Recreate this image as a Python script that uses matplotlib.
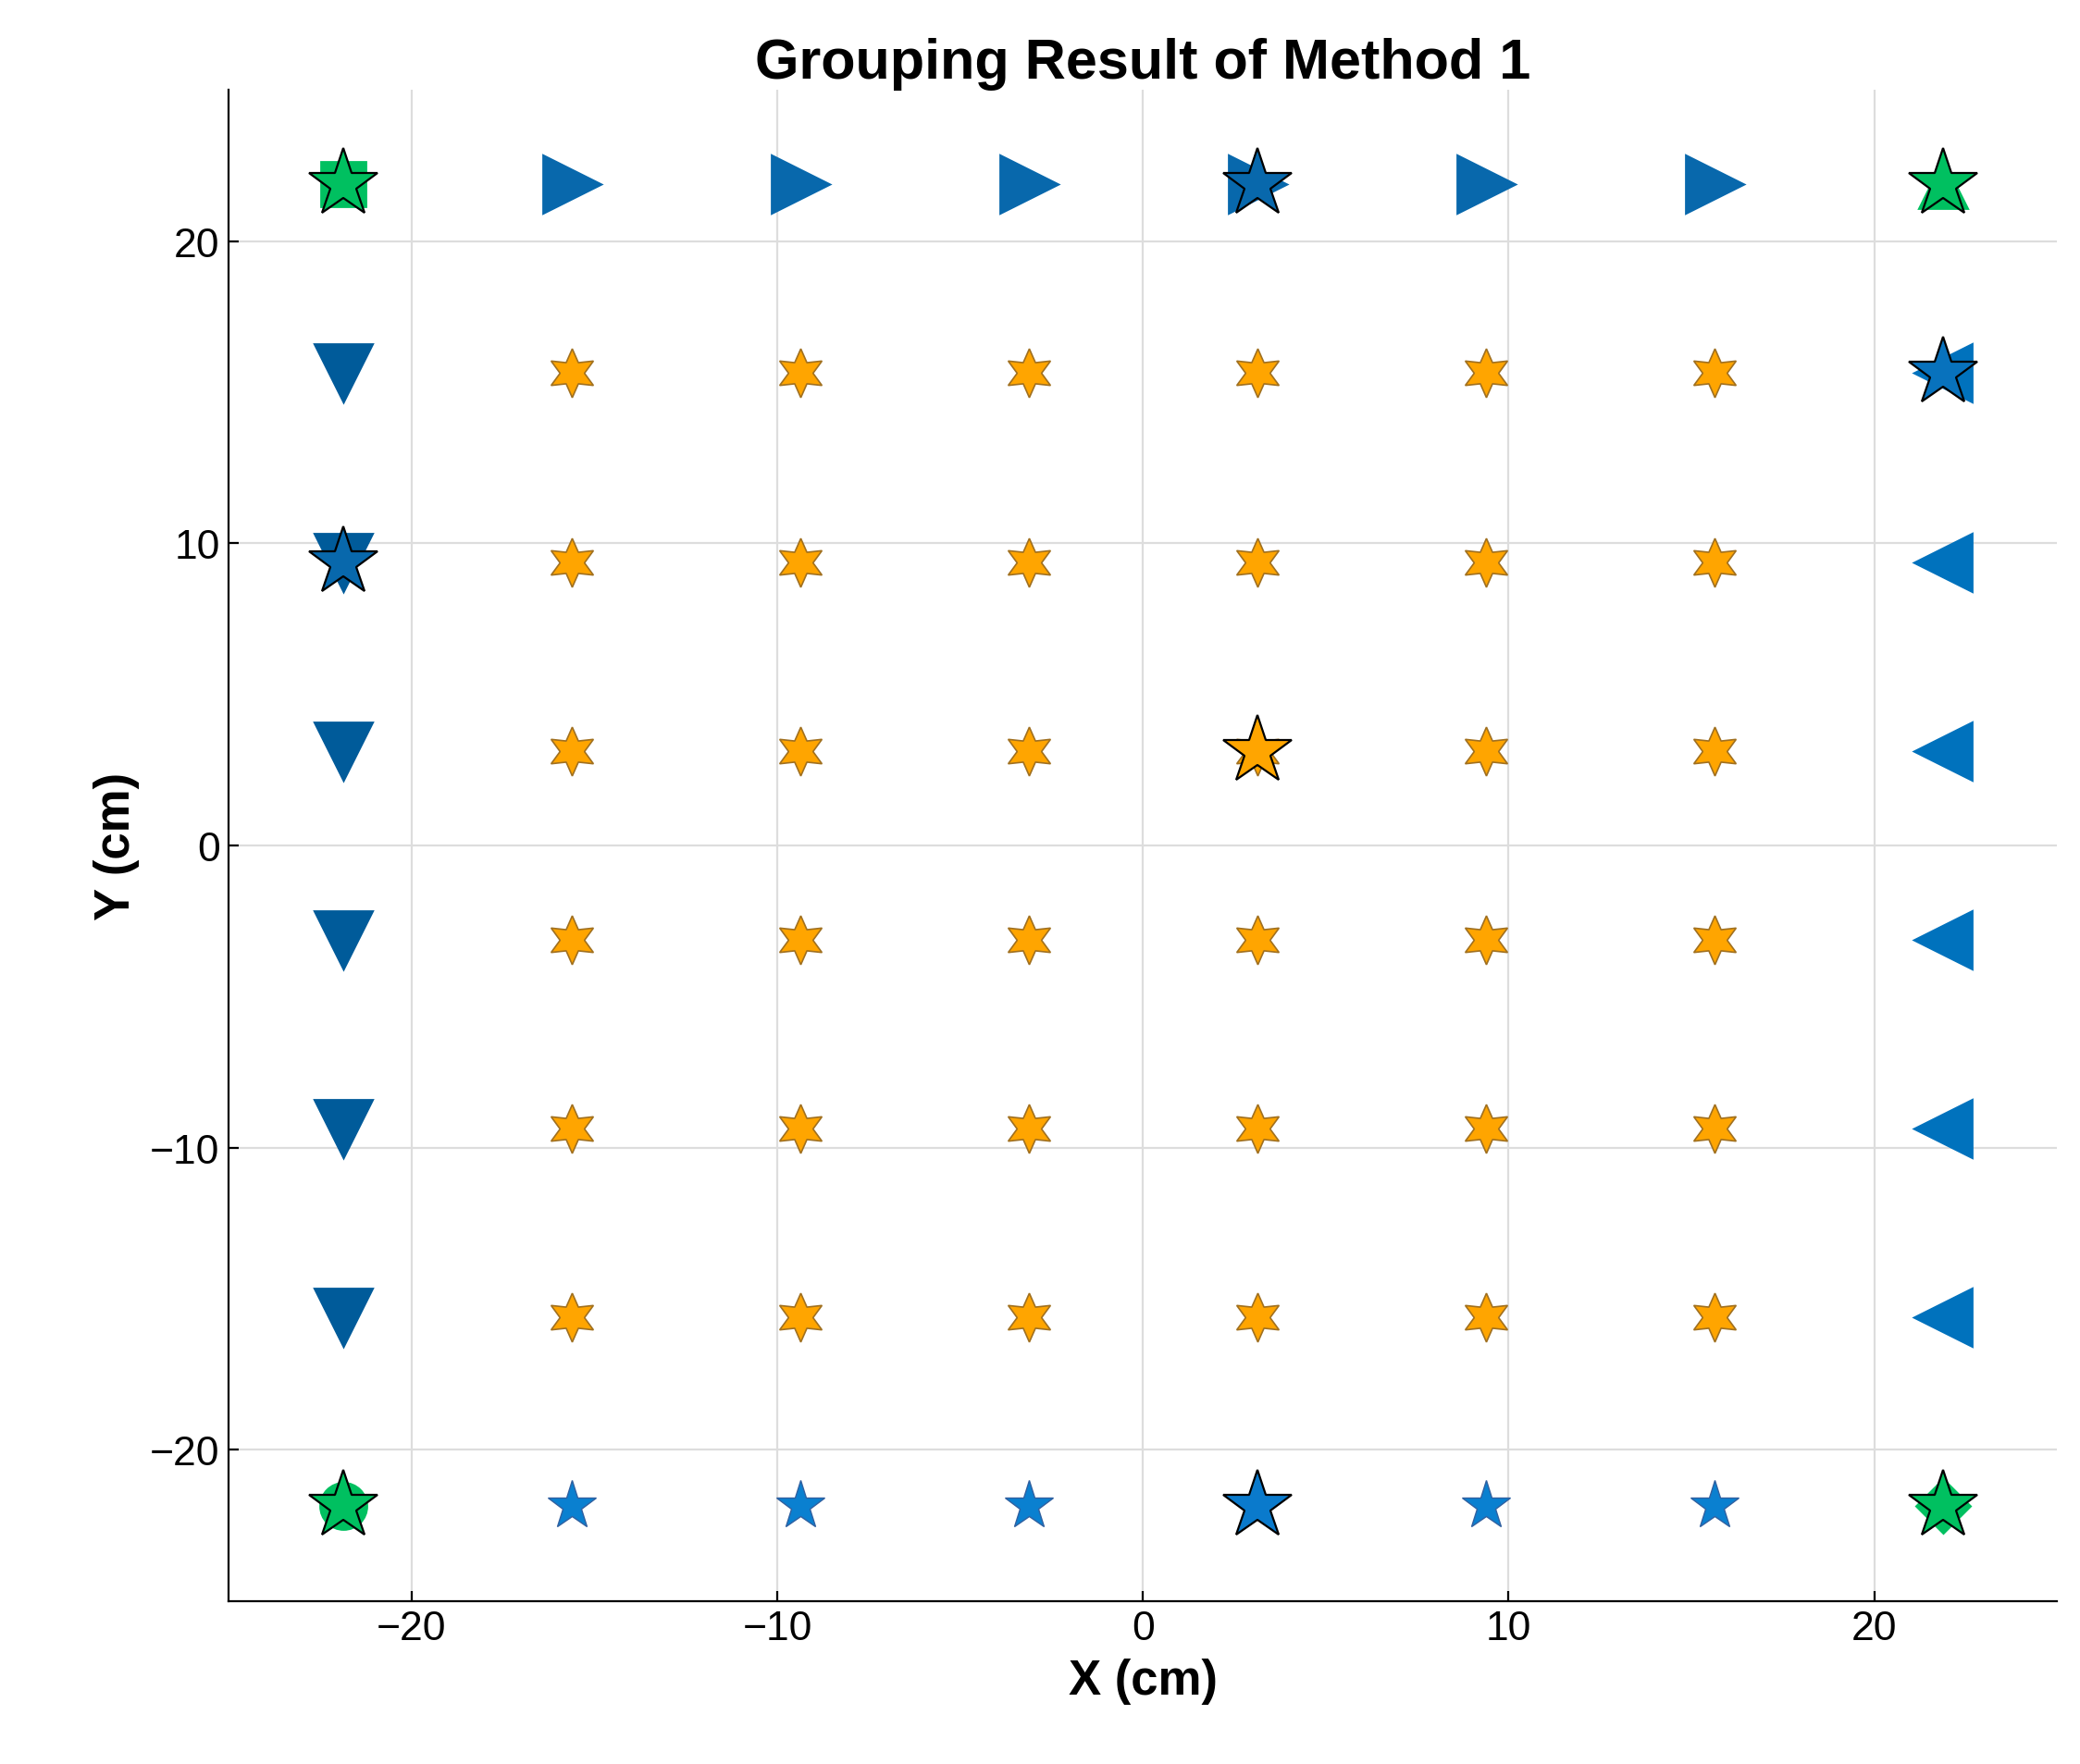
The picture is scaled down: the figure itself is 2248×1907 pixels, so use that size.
import matplotlib.pyplot as plt

plt.rcParams['font.family'] = ['Liberation Sans', 'DejaVu Sans']

pos = [-21.875, -15.625, -9.375, -3.125, 3.125, 9.375, 15.625, 21.875]
inner = pos[1:-1]
edge_y = pos[1:-1]

# grouping results
top_x = inner              # '>' markers, top row
left_y = edge_y            # 'v' markers, left column
right_y = edge_y           # '<' markers, right column
bottom_x = inner           # small stars, bottom row
centers_x = [3.125, -21.875, 21.875, 3.125, 3.125]
centers_y = [21.875, 9.375, 15.625, 3.125, -21.875]
centers_c = ['#0868AC', '#0868AC', '#0872BD', '#FFA500', '#0A7ACC']

blue = '#0072BD'
dblue = '#005B9A'
green = '#00C060'
orange = '#FFA500'

fig = plt.figure(figsize=(11.24, 9.54), dpi=200)
ax = fig.add_axes([0.11, 0.0925, 0.879, 0.856])

hexa = (6, 1, 0)
for y in inner:
    ax.plot(inner, [y] * len(inner), ls='none', marker=hexa, ms=19,
            mfc=orange, mec='#A07020', mew=0.6)
ax.plot(top_x, [pos[-1]] * len(top_x), ls='none', marker='>', ms=22, color='#0868AC')
ax.plot([pos[0]] * len(left_y), left_y, ls='none', marker='v', ms=22, color=dblue)
ax.plot([pos[-1]] * len(right_y), right_y, ls='none', marker='<', ms=22, color=blue)
ax.plot(bottom_x, [pos[0]] * len(bottom_x), ls='none', marker='*', ms=20,
        mfc='#0A80D0', mec='#3060A0', mew=0.5)

# corners
ax.plot(pos[0], pos[-1], marker='s', ms=17, color=green)
ax.plot(pos[-1], pos[-1], marker='^', ms=19, color=green)
ax.plot(pos[0], pos[0], marker='o', ms=18, color=green)
ax.plot(pos[-1], pos[0], marker='D', ms=15, color=green)
for cx, cy in [(pos[0], pos[-1]), (pos[-1], pos[-1]), (pos[0], pos[0]), (pos[-1], pos[0])]:
    ax.plot(cx, cy, marker='*', ms=28, mfc=green, mec='black', mew=0.8)

for cx, cy, c in zip(centers_x, centers_y, centers_c):
    ax.plot(cx, cy, marker='*', ms=28, mfc=c, mec='black', mew=0.8)

ax.set_xlim(-25, 25)
ax.set_ylim(-25, 25)
ax.set_xticks([-20, -10, 0, 10, 20])
ax.set_yticks([-20, -10, 0, 10, 20])
ax.grid(True, color='#DDDDDD', lw=0.8)
ax.set_axisbelow(True)
for s in ['top', 'right']:
    ax.spines[s].set_visible(False)
ax.tick_params(labelsize=16, direction='in', length=4)
ax.set_xlabel('X (cm)', fontsize=19, fontweight='bold')
ax.set_ylabel('Y (cm)', fontsize=19, fontweight='bold')
ax.set_title('Grouping Result of Method 1', fontsize=22, fontweight='bold', pad=4)

fig.savefig('out.png', dpi=200)
